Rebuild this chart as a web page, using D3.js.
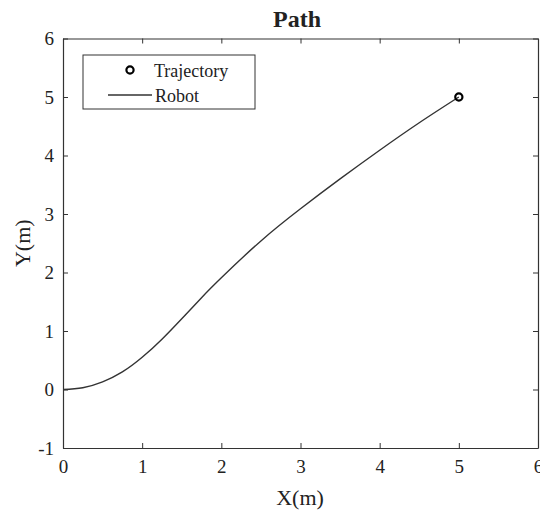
<!DOCTYPE html>
<html>
<head>
<meta charset="utf-8">
<script src="https://cdn.jsdelivr.net/npm/d3@7"></script>
<style>
  body { margin: 0; background: #fff; }
  text { font-family: "Liberation Serif", "Times New Roman", serif; fill: #222; }
</style>
</head>
<body>
<svg id="chart" width="540" height="516"></svg>
<script>
// robot path
var pathX = [0, 0.25, 0.5, 0.75, 1.0, 1.25, 1.5, 1.75, 2.0, 2.5, 3.0, 3.5, 4.0, 4.5, 5];
var pathY = [0, 0.03, 0.13, 0.3, 0.55, 0.86, 1.21, 1.57, 1.91, 2.54, 3.09, 3.6, 4.09, 4.56, 5];
// trajectory target point
var targetX = [5];
var targetY = [5];
var xTicks = [0, 1, 2, 3, 4, 5, 6];
var yTicks = [-1, 0, 1, 2, 3, 4, 5, 6];

var svg = d3.select("#chart");
var plotL = 63, plotR = 538, plotT = 38.5, plotB = 448;

var x = d3.scaleLinear().domain([0, 6]).range([plotL, plotR]);
var y = d3.scaleLinear().domain([-1, 6]).range([plotB, plotT]);

var axisColor = "#333";
var fmt = function(d) { return String(d); };

// axes with inward ticks
var gB = svg.append("g").attr("transform", "translate(0," + plotB + ")")
  .call(d3.axisBottom(x).tickValues(xTicks).tickSizeInner(-5).tickSizeOuter(0).tickPadding(12).tickFormat(fmt));
var gT = svg.append("g").attr("transform", "translate(0," + plotT + ")")
  .call(d3.axisTop(x).tickValues(xTicks).tickSizeInner(-5).tickSizeOuter(0).tickFormat(""));
var gL = svg.append("g").attr("transform", "translate(" + plotL + ",0)")
  .call(d3.axisLeft(y).tickValues(yTicks).tickSizeInner(-5).tickSizeOuter(0).tickPadding(9).tickFormat(fmt));
var gR = svg.append("g").attr("transform", "translate(" + plotR + ",0)")
  .call(d3.axisRight(y).tickValues(yTicks).tickSizeInner(-5).tickSizeOuter(0).tickFormat(""));

[gB, gT, gL, gR].forEach(function(g) {
  g.select(".domain").attr("stroke", axisColor).attr("stroke-width", 1.2);
  g.selectAll(".tick line").attr("stroke", axisColor);
  g.selectAll(".tick text").style("font-family", "Liberation Serif, serif")
    .style("font-size", "19px").attr("fill", "#222");
});

// robot path
var pts = pathX.map(function(d, i) { return [d, pathY[i]]; });
var line = d3.line()
  .x(function(d) { return x(d[0]); })
  .y(function(d) { return y(d[1]); })
  .curve(d3.curveNatural);

svg.append("path")
  .datum(pts)
  .attr("d", line)
  .attr("fill", "none")
  .attr("stroke", "#333")
  .attr("stroke-width", 1.4);

// trajectory marker
svg.selectAll("circle.target")
  .data(targetX)
  .enter().append("circle")
  .attr("class", "target")
  .attr("cx", function(d) { return x(d); })
  .attr("cy", function(d, i) { return y(targetY[i]); })
  .attr("r", 3.6)
  .attr("fill", "none")
  .attr("stroke", "#000")
  .attr("stroke-width", 2.2);

// title and labels
svg.append("text").attr("x", 297).attr("y", 27).attr("text-anchor", "middle")
  .style("font-size", "24px").style("font-weight", "bold").attr("fill", "#111").text("Path");

svg.append("text").attr("x", 300).attr("y", 505).attr("text-anchor", "middle")
  .style("font-size", "22px").text("X(m)");

svg.append("text").attr("transform", "translate(30," + ((plotT + plotB) / 2) + ") rotate(-90)")
  .attr("text-anchor", "middle").style("font-size", "22px").text("Y(m)");

// legend
var lg = svg.append("g");
lg.append("rect").attr("x", 83).attr("y", 55).attr("width", 172).attr("height", 54)
  .attr("fill", "#fff").attr("stroke", "#333").attr("stroke-width", 1);
lg.append("circle").attr("cx", 130).attr("cy", 70).attr("r", 3.6)
  .attr("fill", "none").attr("stroke", "#000").attr("stroke-width", 2.2);
lg.append("text").attr("x", 154).attr("y", 77).style("font-size", "18px").text("Trajectory");
lg.append("line").attr("x1", 108).attr("x2", 152).attr("y1", 95).attr("y2", 95)
  .attr("stroke", "#333").attr("stroke-width", 1.4);
lg.append("text").attr("x", 155).attr("y", 102).style("font-size", "18px").text("Robot");
</script>
</body>
</html>
